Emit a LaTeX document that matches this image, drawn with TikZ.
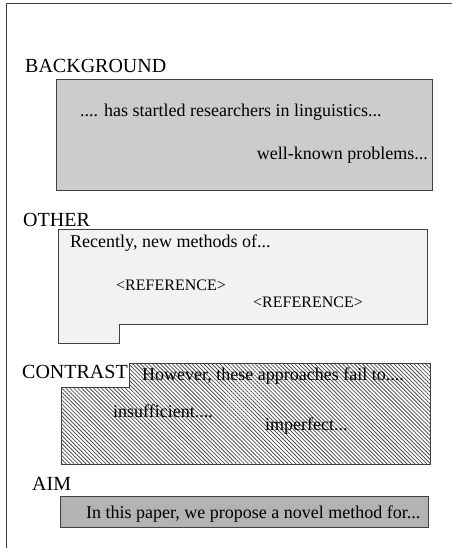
\documentclass[tikz,border=0pt]{standalone}
\usepackage{fontspec}
\setmainfont{Liberation Serif}
\usetikzlibrary{patterns.meta}

\definecolor{bggray}{HTML}{CCCCCC}
\definecolor{othergray}{HTML}{F2F2F2}
\definecolor{aimgray}{HTML}{B3B3B3}
\definecolor{edgegray}{HTML}{404040}

\begin{document}
\begin{tikzpicture}[x=1pt, y=-1pt,
    zone/.style={draw=edgegray, line width=0.8pt},
    zonelabel/.style={anchor=base west, inner sep=0pt, font=\fontsize{20}{24}\selectfont},
    zonetext/.style={anchor=base west, inner sep=0pt, font=\fontsize{18}{22}\selectfont},
    reftext/.style={anchor=base west, inner sep=0pt, font=\fontsize{16}{19}\selectfont}]
			\useasboundingbox (0,0) rectangle (452,548);
			\draw[line width=0.8pt, edgegray] (452,3) -- (6,3) -- (6,548);
			
			% background
			\node[zonelabel] (bglabel) at (25,73) {BACKGROUND};
			\draw[zone, fill=bggray] (56,79) rectangle (432,190);
			\node[zonetext] (bgtext1) at (80,117) {.... has startled researchers in linguistics...};
			\node[zonetext, anchor=base east] (bgtext2) at (428,160) {well-known problems...};
			
			% other
			\node[zonelabel] (otherlabel) at (23,226) {OTHER};
			\draw[zone, fill=othergray] (58,229) -- (427,229) -- (427,324) -- (119,324) -- (119,343) -- (58,343) -- cycle;
			\node[zonetext] (othertext) at (70,247) {Recently, new methods of...};
			\node[reftext] (ref1) at (116,290) {<REFERENCE>};
			\node[reftext] (ref2) at (253,307) {<REFERENCE>};
			
			% contrast
			\node[zonelabel] (contrastlabel) at (22,378) {CONTRAST};
			\draw[zone, pattern={Lines[angle=-45, distance=2.8pt, line width=0.8pt]}, pattern color=black!70] (129,363) -- (430,363) -- (430,464) -- (61,464) -- (61,387) -- (129,387) -- cycle;
			\node[zonetext] (contrasttext1) at (142,380) {However, these approaches fail to....};
			\node[zonetext] (contrasttext2) at (113,417) {insufficient....};
			\node[zonetext] (contrasttext3) at (265,430) {imperfect...};
			
			% aim
			\node[zonelabel] (aimlabel) at (32,490) {AIM};
			\draw[zone, fill=aimgray] (60,496) rectangle (428,527);
			\node[zonetext] (aimtext) at (86,518) {In this paper, we propose a novel method for...};
		\end{tikzpicture}
\end{document}
